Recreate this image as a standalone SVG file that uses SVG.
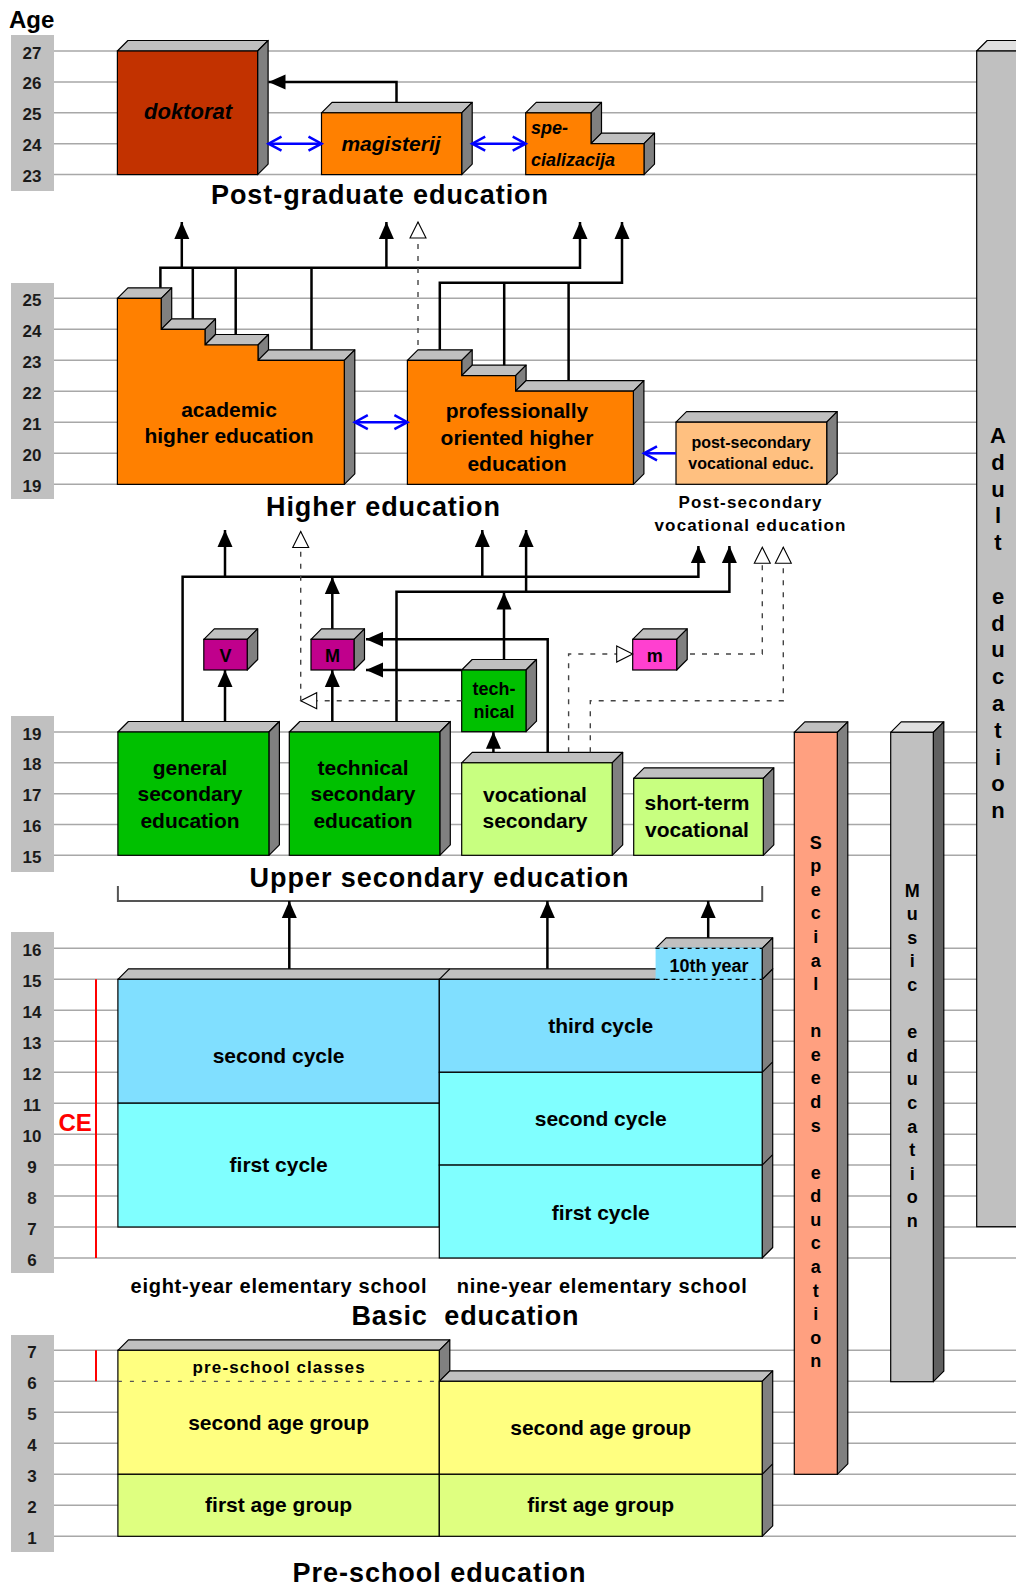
<svg xmlns="http://www.w3.org/2000/svg" width="1016" height="1588" viewBox="0 0 1016 1588">
<style>
text{font-family:"Liberation Sans",Arial,Helvetica,sans-serif;font-weight:bold;fill:#000}
.g{stroke:#A8A8A8;stroke-width:1.5;fill:none}
.lb{fill:#C0C0C0}
.n{font-size:17px;text-anchor:middle;fill:#1A1A1A}
.f{stroke:#000;stroke-width:1.2}
.tp{fill:#C0C0C0;stroke:#000;stroke-width:1.2;stroke-linejoin:round}
.sd{fill:#808080;stroke:#000;stroke-width:1.2;stroke-linejoin:round}
.tpl{fill:#E0E0E0;stroke:#000;stroke-width:1.2;stroke-linejoin:round}
.sdd{fill:#606060;stroke:#000;stroke-width:1.2;stroke-linejoin:round}
.ln{stroke:#000;stroke-width:1.2;fill:none}
.c{fill:none;stroke:#000;stroke-width:2.5}
.d{fill:none;stroke:#444;stroke-width:1.4;stroke-dasharray:5 7}
.b{fill:none;stroke:#0000FF;stroke-width:2.5}
.t{font-size:21px;text-anchor:middle}
.T{font-size:27px;text-anchor:middle}
.v{font-size:18px;text-anchor:middle}
.a{font-size:22px;text-anchor:middle}
</style>
<defs>
<marker id="ah" markerUnits="userSpaceOnUse" markerWidth="18" markerHeight="16" refX="17" refY="7.5" orient="auto" overflow="visible"><path d="M0,0 L17,7.5 L0,15 z" fill="#000"/></marker>
<marker id="ot" markerUnits="userSpaceOnUse" markerWidth="17" markerHeight="16" refX="16" refY="8" orient="auto" overflow="visible"><path d="M0,0 L16,8 L0,16 z" fill="#fff" stroke="#000" stroke-width="1.1"/></marker>
<marker id="bv" markerUnits="userSpaceOnUse" markerWidth="16" markerHeight="16" refX="13" refY="7" orient="auto-start-reverse" overflow="visible"><path d="M0,0 L13,7 L0,14" fill="none" stroke="#0000FF" stroke-width="2.5"/></marker>
</defs>
<rect width="1016" height="1588" fill="#fff"/>

<g id="grid">
<path class="g" d="M54,51H1016M54,81.9H1016M54,112.8H1016M54,143.7H1016M54,174.6H1016M54,298.3H1016M54,329.3H1016M54,360.3H1016M54,391.2H1016M54,422.2H1016M54,453.3H1016M54,484.3H1016M54,732H1016M54,762.8H1016M54,793.7H1016M54,824.5H1016M54,855.3H1016M54,948.3H1016M54,979.3H1016M54,1010.3H1016M54,1041.3H1016M54,1072.3H1016M54,1103.2H1016M54,1134.2H1016M54,1165.1H1016M54,1196.1H1016M54,1227H1016M54,1258H1016M54,1350.3H1016M54,1381.3H1016M54,1412.3H1016M54,1443.3H1016M54,1474.3H1016M54,1505.3H1016M54,1536.3H1016"/>
</g>

<g id="age-axis">
<text x="9" y="28" font-size="24">Age</text>
<rect class="lb" x="11" y="35" width="43" height="156"/>
<rect class="lb" x="11" y="283" width="43" height="216"/>
<rect class="lb" x="11" y="716" width="43" height="156"/>
<rect class="lb" x="11" y="932" width="43" height="341"/>
<rect class="lb" x="11" y="1335" width="43" height="217"/>
<text class="n" x="32" y="58.5">27</text><text class="n" x="32" y="89.4">26</text><text class="n" x="32" y="120.3">25</text><text class="n" x="32" y="151.2">24</text><text class="n" x="32" y="182.1">23</text>
<text class="n" x="32" y="305.8">25</text><text class="n" x="32" y="336.8">24</text><text class="n" x="32" y="367.8">23</text><text class="n" x="32" y="398.7">22</text><text class="n" x="32" y="429.7">21</text><text class="n" x="32" y="460.8">20</text><text class="n" x="32" y="491.8">19</text>
<text class="n" x="32" y="739.5">19</text><text class="n" x="32" y="770.3">18</text><text class="n" x="32" y="801.2">17</text><text class="n" x="32" y="832">16</text><text class="n" x="32" y="862.8">15</text>
<text class="n" x="32" y="955.8">16</text><text class="n" x="32" y="986.8">15</text><text class="n" x="32" y="1017.8">14</text><text class="n" x="32" y="1048.8">13</text><text class="n" x="32" y="1079.8">12</text><text class="n" x="32" y="1110.7">11</text><text class="n" x="32" y="1141.7">10</text><text class="n" x="32" y="1172.6">9</text><text class="n" x="32" y="1203.6">8</text><text class="n" x="32" y="1234.5">7</text><text class="n" x="32" y="1265.5">6</text>
<text class="n" x="32" y="1357.8">7</text><text class="n" x="32" y="1388.8">6</text><text class="n" x="32" y="1419.8">5</text><text class="n" x="32" y="1450.8">4</text><text class="n" x="32" y="1481.8">3</text><text class="n" x="32" y="1512.8">2</text><text class="n" x="32" y="1543.8">1</text>
</g>

<g id="adult-education">
<polygon class="tpl" points="976.7,51 987.2,40.5 1020,40.5 1020,51"/>
<rect class="f" x="976.7" y="51" width="45" height="1175.7" fill="#C0C0C0"/>
<text class="a"><tspan x="998" y="443">A</tspan><tspan x="998" y="469.8">d</tspan><tspan x="998" y="496.6">u</tspan><tspan x="998" y="523.4">l</tspan><tspan x="998" y="550.2">t</tspan><tspan x="998" y="603.8">e</tspan><tspan x="998" y="630.6">d</tspan><tspan x="998" y="657.4">u</tspan><tspan x="998" y="684.2">c</tspan><tspan x="998" y="711">a</tspan><tspan x="998" y="737.8">t</tspan><tspan x="998" y="764.6">i</tspan><tspan x="998" y="791.4">o</tspan><tspan x="998" y="818.2">n</tspan></text>
</g>

<g id="doktorat">
<polygon class="tp" points="117.4,51 127.9,40.5 268.1,40.5 257.6,51"/>
<polygon class="sd" points="257.6,51 268.1,40.5 268.1,164.1 257.6,174.6"/>
<rect class="f" x="117.4" y="51" width="140.2" height="123.6" fill="#C23200"/>
<text x="188" y="119" font-size="22" font-style="italic" text-anchor="middle">doktorat</text>
</g>

<g id="magisterij">
<polygon class="tp" points="321.5,112.8 332,102.3 472.2,102.3 461.7,112.8"/>
<polygon class="sd" points="461.7,112.8 472.2,102.3 472.2,164.1 461.7,174.6"/>
<rect class="f" x="321.5" y="112.8" width="140.2" height="61.8" fill="#FF8000"/>
<text x="391" y="151" font-size="21" font-style="italic" text-anchor="middle">magisterij</text>
</g>

<g id="specializacija">
<polygon class="tp" points="525.7,112.8 536.2,102.3 601.5,102.3 591,112.8"/>
<polygon class="sd" points="591,112.8 601.5,102.3 601.5,133.2 591,143.7"/>
<polygon class="tp" points="591,143.7 601.5,133.2 654.5,133.2 644,143.7"/>
<polygon class="sd" points="644,143.7 654.5,133.2 654.5,164.1 644,174.6"/>
<polygon class="f" points="525.7,112.8 591,112.8 591,143.7 644,143.7 644,174.6 525.7,174.6" fill="#FF8000"/>
<text x="531" y="134" font-size="18" font-style="italic">spe-</text>
<text x="531" y="166" font-size="18" font-style="italic">cializacija</text>
</g>

<text id="title-postgraduate" class="T" x="379.5" y="204" textLength="337" lengthAdjust="spacing">Post-graduate education</text>

<g id="academic-higher-education">
<polygon class="tp" points="117.4,298.3 127.9,287.8 171.7,287.8 161.2,298.3"/>
<polygon class="sd" points="161.2,298.3 171.7,287.8 171.7,318.8 161.2,329.3"/>
<polygon class="tp" points="161.2,329.3 171.7,318.8 215.5,318.8 205,329.3"/>
<polygon class="sd" points="205,329.3 215.5,318.8 215.5,334.5 205,345"/>
<polygon class="tp" points="205,345 215.5,334.5 268.5,334.5 258,345"/>
<polygon class="sd" points="258,345 268.5,334.5 268.5,349.8 258,360.3"/>
<polygon class="tp" points="258,360.3 268.5,349.8 354.8,349.8 344.3,360.3"/>
<polygon class="sd" points="344.3,360.3 354.8,349.8 354.8,473.8 344.3,484.3"/>
<polygon class="f" points="117.4,298.3 161.2,298.3 161.2,329.3 205,329.3 205,345 258,345 258,360.3 344.3,360.3 344.3,484.3 117.4,484.3" fill="#FF8000"/>
<text class="t" x="229" y="416.5">academic</text>
<text class="t" x="229" y="442.5">higher education</text>
</g>

<g id="professional-higher-education">
<polygon class="tp" points="407.4,360.3 417.9,349.8 472.2,349.8 461.7,360.3"/>
<polygon class="sd" points="461.7,360.3 472.2,349.8 472.2,365.2 461.7,375.7"/>
<polygon class="tp" points="461.7,375.7 472.2,365.2 526.1,365.2 515.6,375.7"/>
<polygon class="sd" points="515.6,375.7 526.1,365.2 526.1,380.7 515.6,391.2"/>
<polygon class="tp" points="515.6,391.2 526.1,380.7 643.9,380.7 633.4,391.2"/>
<polygon class="sd" points="633.4,391.2 643.9,380.7 643.9,473.8 633.4,484.3"/>
<polygon class="f" points="407.4,360.3 461.7,360.3 461.7,375.7 515.6,375.7 515.6,391.2 633.4,391.2 633.4,484.3 407.4,484.3" fill="#FF8000"/>
<text class="t" x="517" y="418">professionally</text>
<text class="t" x="517" y="444.5">oriented higher</text>
<text class="t" x="517" y="471">education</text>
</g>

<g id="post-secondary-vocational">
<polygon class="tp" points="676,422.2 686.5,411.7 837.2,411.7 826.7,422.2"/>
<polygon class="sd" points="826.7,422.2 837.2,411.7 837.2,473.8 826.7,484.3"/>
<rect class="f" x="676" y="422.2" width="150.7" height="62.1" fill="#FFC080"/>
<text x="751" y="448" font-size="16" text-anchor="middle">post-secondary</text>
<text x="751" y="468.5" font-size="16" text-anchor="middle">vocational educ.</text>
</g>

<text id="title-higher" class="T" x="383" y="516" textLength="234" lengthAdjust="spacing">Higher education</text>
<g id="title-postsecondary">
<text x="750" y="508" font-size="17" text-anchor="middle" textLength="143" lengthAdjust="spacing">Post-secondary</text>
<text x="750" y="530.5" font-size="17" text-anchor="middle" textLength="191" lengthAdjust="spacing">vocational education</text>
</g>

<g id="V">
<polygon class="tp" points="203.8,639.3 214.3,628.8 257.7,628.8 247.2,639.3"/>
<polygon class="sd" points="247.2,639.3 257.7,628.8 257.7,659.5 247.2,670"/>
<rect class="f" x="203.8" y="639.3" width="43.4" height="30.7" fill="#C0008C"/>
<text class="v" x="225.5" y="661.5">V</text>
</g>
<g id="M">
<polygon class="tp" points="311,639.3 321.5,628.8 364.5,628.8 354,639.3"/>
<polygon class="sd" points="354,639.3 364.5,628.8 364.5,659.5 354,670"/>
<rect class="f" x="311" y="639.3" width="43" height="30.7" fill="#C0008C"/>
<text class="v" x="332.5" y="661.5">M</text>
</g>
<g id="m">
<polygon class="tp" points="632.7,639.3 643.2,628.8 687.2,628.8 676.7,639.3"/>
<polygon class="sd" points="676.7,639.3 687.2,628.8 687.2,659.5 676.7,670"/>
<rect class="f" x="632.7" y="639.3" width="44" height="30.7" fill="#FF40D0"/>
<text class="v" x="654.7" y="661.5">m</text>
</g>
<g id="technical">
<polygon class="tp" points="461.7,670 472.2,659.5 536.5,659.5 526,670"/>
<polygon class="sd" points="526,670 536.5,659.5 536.5,721.2 526,731.7"/>
<rect class="f" x="461.7" y="670" width="64.3" height="61.7" fill="#00C000"/>
<text class="v" x="494" y="695">tech-</text>
<text class="v" x="494" y="718.3">nical</text>
</g>

<g id="general-secondary">
<polygon class="tp" points="117.9,732 128.4,721.5 279.4,721.5 268.9,732"/>
<polygon class="sd" points="268.9,732 279.4,721.5 279.4,844.8 268.9,855.3"/>
<rect class="f" x="117.9" y="732" width="151" height="123.3" fill="#00C000"/>
<text class="t" x="190" y="774.5">general</text>
<text class="t" x="190" y="801">secondary</text>
<text class="t" x="190" y="827.5">education</text>
</g>
<g id="technical-secondary">
<polygon class="tp" points="289.3,732 299.8,721.5 450.3,721.5 439.8,732"/>
<polygon class="sd" points="439.8,732 450.3,721.5 450.3,844.8 439.8,855.3"/>
<rect class="f" x="289.3" y="732" width="150.5" height="123.3" fill="#00C000"/>
<text class="t" x="363" y="774.5">technical</text>
<text class="t" x="363" y="801">secondary</text>
<text class="t" x="363" y="827.5">education</text>
</g>
<g id="vocational-secondary">
<polygon class="tp" points="461.7,762.8 472.2,752.3 622.7,752.3 612.2,762.8"/>
<polygon class="sd" points="612.2,762.8 622.7,752.3 622.7,844.8 612.2,855.3"/>
<rect class="f" x="461.7" y="762.8" width="150.5" height="92.5" fill="#C8FF80"/>
<text class="t" x="535" y="802">vocational</text>
<text class="t" x="535" y="828">secondary</text>
</g>
<g id="short-term-vocational">
<polygon class="tp" points="633.7,778.3 644.2,767.8 773.8,767.8 763.3,778.3"/>
<polygon class="sd" points="763.3,778.3 773.8,767.8 773.8,844.8 763.3,855.3"/>
<rect class="f" x="633.7" y="778.3" width="129.6" height="77" fill="#C8FF80"/>
<text class="t" x="697" y="810">short-term</text>
<text class="t" x="697" y="836.5">vocational</text>
</g>

<g id="title-upper-secondary">
<text class="T" x="439" y="887" textLength="379" lengthAdjust="spacing">Upper secondary education</text>
<path d="M117.9,886V901H762.2V886" fill="none" stroke="#555" stroke-width="2"/>
</g>

<g id="special-needs-education">
<polygon class="tp" points="794.3,732.3 804.8,721.8 847.8,721.8 837.3,732.3"/>
<polygon class="sd" points="837.3,732.3 847.8,721.8 847.8,1463.8 837.3,1474.3"/>
<rect class="f" x="794.3" y="732.3" width="43" height="742" fill="#FFA080"/>
<text class="v"><tspan x="815.7" y="848.7">S</tspan><tspan x="815.7" y="872.3">p</tspan><tspan x="815.7" y="895.8">e</tspan><tspan x="815.7" y="919.4">c</tspan><tspan x="815.7" y="943">i</tspan><tspan x="815.7" y="966.6">a</tspan><tspan x="815.7" y="990.1">l</tspan><tspan x="815.7" y="1037.3">n</tspan><tspan x="815.7" y="1060.8">e</tspan><tspan x="815.7" y="1084.4">e</tspan><tspan x="815.7" y="1108">d</tspan><tspan x="815.7" y="1131.5">s</tspan><tspan x="815.7" y="1178.7">e</tspan><tspan x="815.7" y="1202.3">d</tspan><tspan x="815.7" y="1225.8">u</tspan><tspan x="815.7" y="1249.4">c</tspan><tspan x="815.7" y="1273">a</tspan><tspan x="815.7" y="1296.5">t</tspan><tspan x="815.7" y="1320.1">i</tspan><tspan x="815.7" y="1343.7">o</tspan><tspan x="815.7" y="1367.2">n</tspan></text>
</g>

<g id="music-education">
<polygon class="tpl" points="890.7,732.3 901.2,721.8 943.8,721.8 933.3,732.3"/>
<polygon class="sdd" points="933.3,732.3 943.8,721.8 943.8,1371.2 933.3,1381.7"/>
<rect class="f" x="890.7" y="732.3" width="42.6" height="649.4" fill="#C0C0C0"/>
<text class="v"><tspan x="912.3" y="896.5">M</tspan><tspan x="912.3" y="920.1">u</tspan><tspan x="912.3" y="943.7">s</tspan><tspan x="912.3" y="967.3">i</tspan><tspan x="912.3" y="990.9">c</tspan><tspan x="912.3" y="1038.1">e</tspan><tspan x="912.3" y="1061.7">d</tspan><tspan x="912.3" y="1085.3">u</tspan><tspan x="912.3" y="1108.9">c</tspan><tspan x="912.3" y="1132.5">a</tspan><tspan x="912.3" y="1156.1">t</tspan><tspan x="912.3" y="1179.7">i</tspan><tspan x="912.3" y="1203.3">o</tspan><tspan x="912.3" y="1226.9">n</tspan></text>
</g>

<g id="basic-education">
<polygon class="tp" points="117.9,979.3 128.4,968.8 772.7,968.8 762.2,979.3"/>
<path class="ln" d="M439.3,979.3L449.8,968.8"/>
<polygon class="sd" points="762.2,979.3 772.7,968.8 772.7,1247.5 762.2,1258"/>
<path class="ln" d="M762.2,1072.3L772.7,1061.8M762.2,1165.1L772.7,1154.6"/>
<g id="eight-year-elementary">
<rect class="f" x="117.9" y="979.3" width="321.4" height="123.9" fill="#80DFFF"/>
<rect class="f" x="117.9" y="1103.2" width="321.4" height="123.8" fill="#80FFFF"/>
<text class="t" x="278.6" y="1062.5">second cycle</text>
<text class="t" x="278.6" y="1171.5">first cycle</text>
</g>
<g id="nine-year-elementary">
<rect class="f" x="439.3" y="979.3" width="322.9" height="93" fill="#80DFFF"/>
<rect class="f" x="439.3" y="1072.3" width="322.9" height="92.8" fill="#80FFFF"/>
<rect class="f" x="439.3" y="1165.1" width="322.9" height="92.9" fill="#80FFFF"/>
<text class="t" x="600.7" y="1033">third cycle</text>
<text class="t" x="600.7" y="1126">second cycle</text>
<text class="t" x="600.7" y="1219.5">first cycle</text>
</g>
<g id="tenth-year">
<polygon class="tp" points="655.6,948.3 666.1,937.8 772.7,937.8 762.2,948.3"/>
<polygon class="sd" points="762.2,948.3 772.7,937.8 772.7,968.8 762.2,979.3"/>
<rect x="655.6" y="948.3" width="106.6" height="31" fill="#80DFFF"/>
<path d="M655.6,948.3H762.2M655.6,979.3H762.2" stroke="#80DFFF" stroke-width="1.4"/>
<path d="M655.6,948.3H762.2M655.6,979.3H762.2" fill="none" stroke="#000" stroke-width="1.2" stroke-dasharray="4 4"/>
<path class="ln" d="M762.2,948.3V979.3"/>
<text class="v" x="709" y="971.5">10th year</text>
</g>
<path d="M96,979.3V1258M96,1350.3V1381.3" stroke="#FF0000" stroke-width="2"/>
<text x="58.5" y="1131" font-size="24" style="fill:#FF0000">CE</text>
<text x="278.6" y="1293" font-size="20" text-anchor="middle" textLength="296" lengthAdjust="spacing">eight-year elementary school</text>
<text x="601.8" y="1293" font-size="20" text-anchor="middle" textLength="290" lengthAdjust="spacing">nine-year elementary school</text>
<text class="T" x="465" y="1325" xml:space="preserve" textLength="227" lengthAdjust="spacing">Basic  education</text>
</g>

<g id="pre-school-education">
<polygon class="tp" points="117.9,1350.3 128.4,1339.8 449.8,1339.8 439.3,1350.3"/>
<polygon class="sd" points="439.3,1350.3 449.8,1339.8 449.8,1370.8 439.3,1381.3"/>
<polygon class="tp" points="439.3,1381.3 449.8,1370.8 772.7,1370.8 762.2,1381.3"/>
<polygon class="sd" points="762.2,1381.3 772.7,1370.8 772.7,1525.8 762.2,1536.3"/>
<path class="ln" d="M762.2,1474.3L772.7,1463.8"/>
<rect class="f" x="117.9" y="1350.3" width="321.4" height="124" fill="#FFFF80"/>
<rect class="f" x="117.9" y="1474.3" width="321.4" height="62" fill="#DFFF80"/>
<path d="M117.9,1381.3H439.3" fill="none" stroke="#555" stroke-width="1.2" stroke-dasharray="4 8"/>
<rect class="f" x="439.3" y="1381.3" width="322.9" height="93" fill="#FFFF80"/>
<rect class="f" x="439.3" y="1474.3" width="322.9" height="62" fill="#DFFF80"/>
<text x="278.6" y="1373" font-size="17" text-anchor="middle" textLength="172" lengthAdjust="spacing">pre-school classes</text>
<text class="t" x="278.6" y="1430">second age group</text>
<text class="t" x="600.7" y="1435">second age group</text>
<text class="t" x="278.6" y="1512">first age group</text>
<text class="t" x="600.7" y="1512">first age group</text>
<text class="T" x="439" y="1582" textLength="293" lengthAdjust="spacing">Pre-school education</text>
</g>

<g id="connectors">
<path class="c" d="M396.5,102.3V82H268.5" marker-end="url(#ah)"/>
<path class="b" d="M268.5,143.7H321.5" marker-start="url(#bv)" marker-end="url(#bv)"/>
<path class="b" d="M472.2,143.7H525.7" marker-start="url(#bv)" marker-end="url(#bv)"/>
<path class="b" d="M354.8,422.2H407.4" marker-start="url(#bv)" marker-end="url(#bv)"/>
<path class="b" d="M676,453.3H644" marker-end="url(#bv)"/>

<path class="c" d="M160.4,287.8V267.7H580V222" marker-end="url(#ah)"/>
<path class="c" d="M192.8,318.8V267.7M235.7,334.5V267.7M311.5,349.8V267.7"/>
<path class="c" d="M181.8,267.7V222" marker-end="url(#ah)"/>
<path class="c" d="M386.4,267.7V222" marker-end="url(#ah)"/>
<path class="c" d="M439.8,349.8V282.7H622V222" marker-end="url(#ah)"/>
<path class="c" d="M504.2,365.2V282.7M568.6,380.7V282.7"/>
<path class="d" d="M418,345V222" marker-end="url(#ot)"/>

<path class="c" d="M182.6,721.5V576.7H698.4V546" marker-end="url(#ah)"/>
<path class="c" d="M225,576.7V530" marker-end="url(#ah)"/>
<path class="c" d="M482.3,576.7V530" marker-end="url(#ah)"/>
<path class="c" d="M396.5,721.5V591.7H729.4V546" marker-end="url(#ah)"/>
<path class="c" d="M526.1,591.7V530" marker-end="url(#ah)"/>
<path class="c" d="M332.3,628.8V577" marker-end="url(#ah)"/>
<path class="c" d="M332.3,721.5V670" marker-end="url(#ah)"/>
<path class="c" d="M225,721.5V670" marker-end="url(#ah)"/>
<path class="c" d="M504,659.5V592.5" marker-end="url(#ah)"/>
<path class="c" d="M493.4,752.3V731.7" marker-end="url(#ah)"/>
<path class="c" d="M547.7,752.3V639.3H366" marker-end="url(#ah)"/>
<path class="c" d="M461.7,670H366" marker-end="url(#ah)"/>

<path class="d" d="M461.7,700.7H300.7" marker-end="url(#ot)"/>
<path class="d" d="M300.7,700.7V531.5" marker-end="url(#ot)"/>
<path class="d" d="M568.6,752.3V654H632.7" marker-end="url(#ot)"/>
<path class="d" d="M690,654H762.3V547.3" marker-end="url(#ot)"/>
<path class="d" d="M590.3,752.3V700.7H783.3V547.3" marker-end="url(#ot)"/>

<path class="c" d="M289.3,968.8V901" marker-end="url(#ah)"/>
<path class="c" d="M547.4,968.8V901" marker-end="url(#ah)"/>
<path class="c" d="M708.2,937.8V901" marker-end="url(#ah)"/>
</g>
</svg>
